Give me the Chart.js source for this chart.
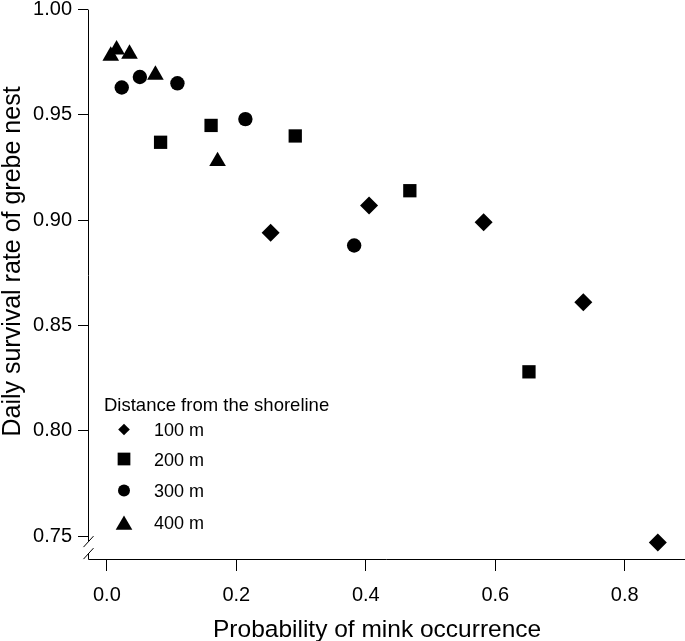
<!DOCTYPE html>
<html><head><meta charset="utf-8">
<script src="https://cdn.jsdelivr.net/npm/chart.js@4/dist/chart.umd.min.js"></script>
<style>html,body{margin:0;padding:0;background:#fff;}canvas{display:block;}</style>
</head><body>
<canvas id="c" width="685" height="641"></canvas>
<script>
// ---- data ----
const seriesNames = ['100 m', '200 m', '300 m', '400 m'];
const legendTitle = 'Distance from the shoreline';
const xTitle = 'Probability of mink occurrence';
const yTitle = 'Daily survival rate of grebe nest';
const xTicks = [0.0, 0.2, 0.4, 0.6, 0.8];
const yTicks = [0.75, 0.80, 0.85, 0.90, 0.95, 1.00];

const x100 = [0.253, 0.405, 0.582, 0.736, 0.851];
const y100 = [0.894, 0.907, 0.899, 0.861, 0.747];
const x200 = [0.083, 0.161, 0.291, 0.468, 0.652];
const y200 = [0.937, 0.945, 0.940, 0.914, 0.828];
const x300 = [0.023, 0.051, 0.109, 0.214, 0.382];
const y300 = [0.963, 0.968, 0.965, 0.948, 0.888];
const x400 = [0.006, 0.015, 0.035, 0.075, 0.171];
const y400 = [0.978, 0.981, 0.979, 0.969, 0.928];

const FONT = '"Liberation Sans", Arial, Helvetica, sans-serif';
const pts = (xs, ys) => xs.map((x, i) => ({x: x, y: ys[i]}));
const styles = ['rectRot', 'rect', 'circle', 'triangle'];
const radii = [9, 9.4, 7.2, 9.6];
const legendRadii = [5.8, 9, 6, 9.6];
const allX = [x100, x200, x300, x400];
const allY = [y100, y200, y300, y400];

const datasets = seriesNames.map((name, i) => ({
  label: name,
  data: pts(allX[i], allY[i]),
  pointStyle: styles[i],
  pointRadius: radii[i],
  pointHoverRadius: radii[i],
  backgroundColor: '#000',
  borderColor: '#000',
  borderWidth: 0,
  clip: false
}));

const decor = {
  id: 'decor',
  afterDraw(chart) {
    const ctx = chart.ctx;
    const xs = chart.scales.x, ys = chart.scales.y;
    const ax = Math.round(xs.left) + 0.5;
    const ay = Math.round(ys.bottom) - 0.5;
    const yBreak = ys.getPixelForValue(0.75) + 5;
    ctx.save();
    ctx.strokeStyle = '#000';
    ctx.lineWidth = 1;
    ctx.beginPath();
    ctx.moveTo(ax, ys.getPixelForValue(1.0));
    ctx.lineTo(ax, yBreak);
    ctx.moveTo(ax, yBreak + 12);
    ctx.lineTo(ax, ay);
    ctx.lineTo(chart.width, ay);
    ctx.moveTo(ax - 5, yBreak + 6); ctx.lineTo(ax + 5, yBreak - 5);
    ctx.moveTo(ax - 5, yBreak + 18); ctx.lineTo(ax + 5, yBreak + 7);
    ctx.stroke();

    ctx.fillStyle = '#000';
    ctx.font = '24.5px ' + FONT;
    ctx.textAlign = 'left';
    ctx.textBaseline = 'alphabetic';
    ctx.fillText(xTitle, 213, 636.5);
    ctx.save();
    ctx.translate(19.5, 261.5);
    ctx.rotate(-Math.PI / 2);
    ctx.textAlign = 'center';
    ctx.font = '25px ' + FONT;
    ctx.fillText(yTitle, 0, 0);
    ctx.restore();

    ctx.font = '18.5px ' + FONT;
    ctx.textAlign = 'left';
    ctx.fillText(legendTitle, 104, 410.7);
    ctx.font = '18px ' + FONT;
    const rowY = [429.5, 459, 490.5, 522.5];
    seriesNames.forEach((name, i) => {
      let cy = rowY[i];
      if (styles[i] === 'triangle') cy += 2.5;
      ctx.fillStyle = '#000';
      Chart.helpers.drawPoint(ctx, {pointStyle: styles[i], radius: legendRadii[i], rotation: 0, borderWidth: 0}, 124, cy);
      ctx.fillText(name, 154, rowY[i] + 6.5);
    });
    ctx.restore();
  }
};

new Chart(document.getElementById('c'), {
  type: 'scatter',
  data: {datasets: datasets},
  options: {
    responsive: false,
    animation: false,
    devicePixelRatio: 1,
    layout: {padding: {top: 7, left: 0, right: 0, bottom: 0}},
    plugins: {legend: {display: false}, tooltip: {enabled: false}},
    scales: {
      x: {
        type: 'linear',
        min: -0.02912,
        max: 0.8782,
        afterBuildTicks: s => { s.ticks = xTicks.map(v => ({value: v})); },
        afterFit: s => { s.height = 81; s.paddingLeft = 0; s.paddingRight = 0; },
        ticks: {color: '#000', font: {size: 20, family: FONT}, padding: 12, maxRotation: 0,
                callback: v => Number(v).toFixed(1)},
        grid: {drawOnChartArea: false, drawTicks: true, tickLength: 11, color: '#000', lineWidth: 1},
        border: {display: false}
      },
      y: {
        type: 'linear',
        min: 0.73865,
        max: 1.0,
        afterBuildTicks: s => { s.ticks = yTicks.map(v => ({value: v})); },
        afterFit: s => { s.width = 88; s.paddingTop = 0; s.paddingBottom = 0; },
        ticks: {color: '#000', font: {size: 20, family: FONT}, padding: 6,
                callback: v => Number(v).toFixed(2)},
        grid: {drawOnChartArea: false, drawTicks: true, tickLength: 10, color: '#000', lineWidth: 1},
        border: {display: false}
      }
    }
  },
  plugins: [decor]
});
</script>
</body></html>
